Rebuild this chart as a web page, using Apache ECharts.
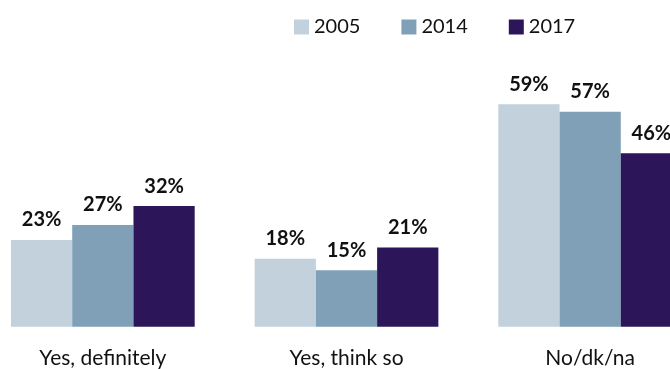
<!DOCTYPE html>
<html>
<head>
<meta charset="utf-8">
<script src="https://cdn.jsdelivr.net/npm/echarts@6/dist/echarts.min.js"></script>
<style>
  html, body { margin: 0; padding: 0; background: #fff; overflow: hidden; width: 670px; height: 369px; }
  /* the plot is wider than the window: the last column runs off the right edge */
  #chart { position: absolute; left: -19px; top: 0; width: 731px; height: 369px; }
</style>
</head>
<body>
<div id="chart"></div>
<script>
// Survey answers by year (percent of respondents)
const categories = ['Yes, definitely', 'Yes, think so', 'No/dk/na'];
const years = ['2005', '2014', '2017'];
const values2005 = [23, 18, 59];
const values2014 = [27, 15, 57];
const values2017 = [32, 21, 46];
const yearColors = ['#C3D1DD', '#7FA0B7', '#2C1659'];

const FONT = 'Lato';
const seriesValues = [values2005, values2014, values2017];

const chart = echarts.init(document.getElementById('chart'), null, { renderer: 'canvas' });

chart.setOption({
  animation: false,
  textStyle: { fontFamily: FONT },
  legend: {
    data: years,
    left: 308,
    top: 12,
    itemWidth: 15,
    itemHeight: 15,
    itemGap: 41,
    icon: 'rect',
    textStyle: { fontFamily: FONT, fontSize: 20, color: '#111' }
  },
  grid: {
    left: 0,
    right: 0,
    top: 25.1,
    height: 301.6,
    containLabel: false
  },
  xAxis: {
    type: 'category',
    data: categories,
    axisLine: { show: false },
    axisTick: { show: false },
    axisLabel: {
      fontFamily: FONT,
      fontSize: 21,
      color: '#111',
      margin: 21
    }
  },
  yAxis: {
    type: 'value',
    min: 0,
    max: 80,
    show: false,
    splitLine: { show: false }
  },
  series: years.map((y, i) => ({
    name: y,
    type: 'bar',
    data: seriesValues[i],
    barGap: '0%',
    barCategoryGap: '24.6%',
    itemStyle: { color: yearColors[i] },
    label: {
      show: true,
      position: 'top',
      distance: 10,
      formatter: p => p.value + '%',
      fontFamily: FONT,
      fontWeight: 'bold',
      fontSize: 20,
      color: '#111'
    }
  }))
});
</script>
</body>
</html>
